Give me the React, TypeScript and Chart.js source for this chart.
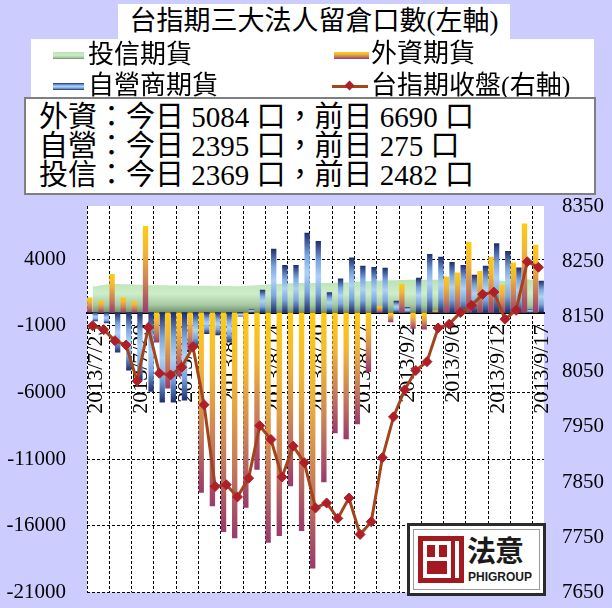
import React, { useEffect, useRef } from "react";
import { Chart, registerables } from "chart.js";

Chart.register(...registerables);

// ---------------- data ----------------
const dates = [
  "2013/7/23", "2013/7/24", "2013/7/25", "2013/7/26", "2013/7/29", "2013/7/30", "2013/7/31",
  "2013/8/1", "2013/8/2", "2013/8/5", "2013/8/6", "2013/8/7", "2013/8/8", "2013/8/9",
  "2013/8/12", "2013/8/13", "2013/8/14", "2013/8/15", "2013/8/16", "2013/8/19", "2013/8/20",
  "2013/8/22", "2013/8/23", "2013/8/26", "2013/8/27", "2013/8/28", "2013/8/29", "2013/8/30",
  "2013/9/2", "2013/9/3", "2013/9/4", "2013/9/5", "2013/9/6", "2013/9/9", "2013/9/10",
  "2013/9/11", "2013/9/12", "2013/9/13", "2013/9/14", "2013/9/16", "2013/9/17",
];

// 外資期貨
const foreignOI = [
  1140, 900, 2890, 1140, 850, 6490, -2250, -5700, -4800, -2840, -13530, -14530, -16470, -16940,
  -14650, -11800, -17270, -16770, -13040, -16390, -19200, -12740, -9050, -9500, -8380, -4450,
  500, -720, 2170, -1220, -1260, 150, 2710, 3010, 5320, 3130, 4200, 2090, 3760, 6690, 5084,
];

// 自營商期貨
const dealerOI = [
  -650, -800, -3000, -4350, -5100, -5950, -6750, -6750, -6600, -2600, -1600, -1700, -2250, -300,
  250, 1720, 4800, 3580, 3580, 5990, 5370, 1520, 2560, 4130, 3510, 3430, 3360, 880, 420, 2610,
  4400, 4200, 3800, 3580, 2840, 3510, 5200, 4630, 3380, 275, 2395,
];

// 投信期貨
const trustOI = [
  1960, 2080, 2150, 2120, 2090, 2060, 2050, 2040, 2030, 2020, 2010, 2000, 1990, 1980, 2010,
  2070, 2130, 2170, 2200, 2220, 2230, 2220, 2240, 2280, 2330, 2380, 2400, 2430, 2450, 2460,
  2470, 2470, 2480, 2470, 2440, 2420, 2400, 2380, 2350, 2482, 2369,
];

// 台指期收盤(右軸)
const taiexClose = [
  8133, 8126, 8106, 8098, 8033, 8130, 8047, 8044, 8058, 8095, 7990, 7842, 7845, 7823, 7857,
  7952, 7927, 7859, 7915, 7885, 7803, 7812, 7784, 7821, 7755, 7778, 7894, 7968, 8017, 8052,
  8068, 8129, 8136, 8157, 8170, 8190, 8194, 8145, 8161, 8249, 8239,
];

const leftTicks = [-21000, -16000, -11000, -6000, -1000, 4000];
const rightTicks = [7650, 7750, 7850, 7950, 8050, 8150, 8250, 8350];

const titleText = "台指期三大法人留倉口數(左軸)";
const seriesNames = ["投信期貨", "外資期貨", "自營商期貨", "台指期收盤(右軸)"];

// ---------------- styles ----------------
const W = 612;
const H = 608;
const CANVAS_H = 626;
const BG = "#CCCCFF";
const SERIF = '"Liberation Serif", "Noto Sans CJK TC", serif';
const CJK = '"Liberation Serif", "Noto Sans CJK TC", sans-serif';

const GOLD_STOPS: [number, string][] = [
  [0, "#FFCC11"],
  [0.3, "#F2B636"],
  [0.65, "#C98059"],
  [1, "#9A3A6C"],
];
const BLUE_STOPS: [number, string][] = [
  [0, "#1E2C6E"],
  [0.28, "#7AA6E0"],
  [0.5, "#ADD2F6"],
  [0.74, "#7AA6E0"],
  [1, "#1E2C6E"],
];
const GREEN_STOPS: [number, string][] = [
  [0, "#B6E2B0"],
  [0.45, "#CFEDCB"],
  [0.78, "#A6C9A2"],
  [1, "#6F8E6E"],
];
const LINE_COLOR = "#A3451C";
const MARKER_COLOR = "#B01E28";

function barGradient(stops: [number, string][]) {
  return (c: any) => {
    const chart = c.chart;
    const ys = chart.scales && chart.scales.y;
    if (c.type !== "data" || !chart.chartArea || !ys) return stops[0][1];
    const v = Number(c.raw);
    const p0 = ys.getPixelForValue(0);
    const p1 = ys.getPixelForValue(v);
    const top = Math.min(p0, p1);
    const bot = Math.max(p0, p1);
    if (bot - top < 0.5) return stops[0][1];
    const g = chart.ctx.createLinearGradient(0, top, 0, bot);
    stops.forEach(([o, col]) => g.addColorStop(o, col));
    return g;
  };
}

function areaGradient(c: any) {
  const chart = c.chart;
  const ys = chart.scales && chart.scales.y;
  if (!chart.chartArea || !ys) return GREEN_STOPS[0][1];
  const top = ys.getPixelForValue(2600);
  const bot = ys.getPixelForValue(0);
  const g = chart.ctx.createLinearGradient(0, top, 0, bot);
  GREEN_STOPS.forEach(([o, col]) => g.addColorStop(o, col));
  return g;
}

const plotBackground = {
  id: "plotBackground",
  beforeDraw(chart: any) {
    const { ctx, chartArea: a } = chart;
    if (!a) return;
    ctx.save();
    ctx.fillStyle = "#FFFFFF";
    ctx.fillRect(a.left, a.top, a.right - a.left, a.bottom - a.top);
    ctx.restore();
  },
};

const css = (stops: [number, string][]) =>
  `linear-gradient(to bottom, ${stops.map(([o, c]) => `${c} ${Math.round(o * 100)}%`).join(", ")})`;

export default function App() {
  const ref = useRef<HTMLCanvasElement>(null);

  useEffect(() => {
    const canvas = ref.current;
    if (!canvas) return;
    const chart = new Chart(canvas, {
      type: "bar",
      data: {
        labels: dates,
        datasets: [
          {
            type: "bar",
            label: seriesNames[1],
            data: foreignOI,
            yAxisID: "y",
            order: 2,
            backgroundColor: barGradient(GOLD_STOPS) as any,
            borderWidth: 0,
            categoryPercentage: 1,
            barPercentage: 0.96,
          },
          {
            type: "bar",
            label: seriesNames[2],
            data: dealerOI,
            yAxisID: "y",
            order: 2,
            backgroundColor: barGradient(BLUE_STOPS) as any,
            borderWidth: 0,
            categoryPercentage: 1,
            barPercentage: 0.96,
          },
          {
            type: "line",
            label: seriesNames[0],
            data: trustOI,
            yAxisID: "y",
            order: 3,
            fill: "origin",
            backgroundColor: areaGradient as any,
            borderWidth: 0,
            borderColor: "rgba(0,0,0,0)",
            pointRadius: 0,
            tension: 0.4,
          },
          {
            type: "line",
            label: seriesNames[3],
            data: taiexClose,
            yAxisID: "y1",
            order: 1,
            fill: false,
            borderColor: LINE_COLOR,
            borderWidth: 3,
            pointStyle: "rectRot",
            pointRadius: 5,
            pointBackgroundColor: MARKER_COLOR,
            pointBorderColor: MARKER_COLOR,
            pointBorderWidth: 1,
            tension: 0,
          },
        ],
      },
      options: {
        responsive: false,
        animation: false,
        devicePixelRatio: 1,
        layout: { padding: { top: 206, bottom: 15, left: 0, right: 0 } },
        plugins: {
          legend: { display: false },
          title: { display: false },
          tooltip: { enabled: false },
        },
        scales: {
          x: {
            type: "category",
            position: { y: 0 } as any,
            offset: true,
            grid: {
              offset: true,
              drawTicks: false,
              lineWidth: 1,
              color: (c: any) => (c.index % 2 === 0 ? "#000000" : "rgba(0,0,0,0)"),
            },
            border: { display: true, color: "#000000", width: 2, dash: [3, 2] },
            ticks: {
              autoSkip: false,
              minRotation: 90,
              maxRotation: 90,
              padding: 12,
              labelOffset: 4,
              color: "#000000",
              font: { family: SERIF, size: 22 },
              callback: (_v: any, i: number) => (i % 4 === 0 ? dates[i] : ""),
            },
          },
          y: {
            type: "linear",
            position: "left",
            min: -21000,
            max: 8000,
            afterBuildTicks: (s: any) => {
              s.ticks = leftTicks.map((v) => ({ value: v }));
            },
            afterFit: (s: any) => {
              s.width = 87;
            },
            grid: { color: "#000000", lineWidth: 1, drawTicks: false },
            border: { display: false, dash: [3, 2] },
            ticks: {
              padding: 21,
              color: "#000000",
              font: { family: SERIF, size: 21 },
              callback: (v: any) => String(v),
            },
          },
          y1: {
            type: "linear",
            position: "right",
            min: 7650,
            max: 8350,
            afterBuildTicks: (s: any) => {
              s.ticks = rightTicks.map((v) => ({ value: v }));
            },
            afterFit: (s: any) => {
              s.width = 68;
            },
            grid: { display: false, drawTicks: false },
            border: { display: false },
            ticks: {
              padding: 18,
              color: "#000000",
              font: { family: SERIF, size: 21 },
              callback: (v: any) => String(v),
            },
          },
        },
      },
      plugins: [plotBackground],
    } as any);
    return () => chart.destroy();
  }, []);

  const n = foreignOI.length;
  const summary: [string, number[]][] = [
    ["外資", foreignOI],
    ["自營", dealerOI],
    ["投信", trustOI],
  ];

  const legendText: React.CSSProperties = {
    position: "absolute",
    fontFamily: CJK,
    fontSize: 26,
    lineHeight: "30px",
    color: "#000",
    whiteSpace: "nowrap",
  };

  return (
    <div
      style={{
        position: "fixed",
        left: 0,
        top: 0,
        width: W,
        height: H,
        background: BG,
        overflow: "hidden",
      }}
    >
      <canvas
        ref={ref}
        width={W}
        height={CANVAS_H}
        style={{ position: "absolute", left: 0, top: 0, width: W, height: CANVAS_H }}
      />

      {/* title */}
      <div
        style={{
          position: "absolute",
          left: 118,
          top: 4,
          width: 392,
          height: 35,
          background: "#fff",
          fontFamily: CJK,
          fontSize: 27,
          lineHeight: "35px",
          textAlign: "center",
          color: "#000",
          whiteSpace: "nowrap",
        }}
      >
        {titleText}
      </div>

      {/* legend */}
      <div
        style={{
          position: "absolute",
          left: 31,
          top: 39,
          width: 563,
          height: 60,
          background: "#fff",
          overflow: "hidden",
        }}
      >
        <div style={{ position: "absolute", left: 22, top: 13, width: 31, height: 7, background: css(GREEN_STOPS) }} />
        <div style={{ ...legendText, left: 57, top: 1 }}>{seriesNames[0]}</div>
        <div style={{ position: "absolute", left: 303, top: 13, width: 35, height: 7, background: css(GOLD_STOPS) }} />
        <div style={{ ...legendText, left: 340, top: 0 }}>{seriesNames[1]}</div>
        <div style={{ position: "absolute", left: 22, top: 44, width: 31, height: 7, background: css(BLUE_STOPS) }} />
        <div style={{ ...legendText, left: 57, top: 32 }}>{seriesNames[2]}</div>
        <div style={{ position: "absolute", left: 301, top: 46, width: 36, height: 3, background: LINE_COLOR }} />
        <div
          style={{
            position: "absolute",
            left: 315,
            top: 43,
            width: 7,
            height: 7,
            background: MARKER_COLOR,
            transform: "rotate(45deg)",
          }}
        />
        <div style={{ ...legendText, left: 340, top: 32 }}>{seriesNames[3]}</div>
      </div>

      {/* summary text box */}
      <div
        style={{
          position: "absolute",
          left: 24,
          top: 97,
          width: 572,
          height: 98,
          boxSizing: "border-box",
          border: "2px solid #7F7F7F",
          background: "#fff",
          padding: "4px 0 0 13px",
          fontFamily: CJK,
          fontSize: 29,
          lineHeight: "29px",
          color: "#000",
          whiteSpace: "pre",
        }}
      >
        {summary.map(([name, arr]) => (
          <div key={name}>{`${name}：今日 ${arr[n - 1]} 口，前日 ${arr[n - 2]} 口`}</div>
        ))}
      </div>

      {/* logo */}
      <div
        style={{
          position: "absolute",
          left: 407,
          top: 523,
          width: 139,
          height: 73,
          boxSizing: "border-box",
          border: "3px solid #2B2B2B",
          background: "#fff",
        }}
      >
        <div style={{ position: "absolute", left: 3, top: 3, right: 3, bottom: 3, border: "1px solid #9A9A9A" }} />
        <div style={{ position: "absolute", left: 8, top: 10, width: 46, height: 47, background: "#A3191F" }}>
          <div style={{ position: "absolute", left: 5, top: 5, width: 28, height: 37, background: "#fff" }} />
          <div style={{ position: "absolute", left: 9, top: 9, width: 20, height: 29, background: "#A3191F" }} />
          <div style={{ position: "absolute", left: 9, top: 21, width: 20, height: 4, background: "#fff" }} />
          <div style={{ position: "absolute", left: 17, top: 9, width: 4, height: 12, background: "#fff" }} />
          <div style={{ position: "absolute", left: 37, top: 5, width: 4, height: 37, background: "#fff" }} />
        </div>
        <div
          style={{
            position: "absolute",
            left: 57,
            top: 7,
            fontFamily: '"Noto Sans CJK TC", sans-serif',
            fontWeight: 700,
            fontSize: 29,
            lineHeight: "32px",
            color: "#1A1A1A",
            letterSpacing: -1,
            whiteSpace: "nowrap",
          }}
        >
          法意
        </div>
        <div
          style={{
            position: "absolute",
            left: 58,
            top: 44,
            fontFamily: '"Liberation Sans", sans-serif',
            fontWeight: 700,
            fontSize: 12,
            lineHeight: "14px",
            color: "#1A1A1A",
            whiteSpace: "nowrap",
          }}
        >
          PHIGROUP
        </div>
      </div>
    </div>
  );
}
